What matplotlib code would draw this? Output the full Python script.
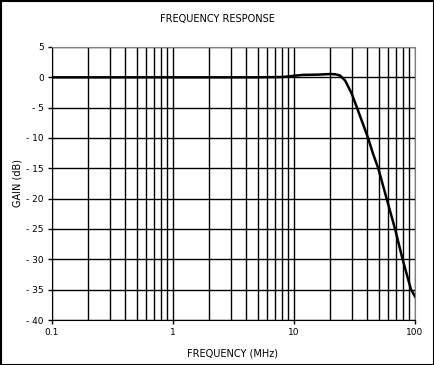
import matplotlib
matplotlib.use("Agg")
import matplotlib.pyplot as plt
from matplotlib.patches import Rectangle
import numpy as np

freq_mhz = [0.1, 0.5, 1, 5, 8, 10, 11.7, 16, 20, 22, 24, 26.4, 28, 30.0, 33.0, 37, 41.1, 45, 49.7, 58.3, 68.4, 79, 92.7, 100]
gain_db = [0.0, 0.0, 0.0, 0.0, 0.05, 0.25, 0.4, 0.45, 0.55, 0.5, 0.3, -0.5, -1.5, -2.7, -4.9, -7.6, -10.1, -12.6, -15.0, -20.0, -25.0, -30.0, -35.0, -36.1]
y_ticks = [5, 0, -5, -10, -15, -20, -25, -30, -35, -40]
x_ticks = [0.1, 1, 10, 100]
x_tick_labels = ["0.1", "1", "10", "100"]

plt.rcParams['font.family'] = ['DejaVu Sans']
fig = plt.figure(figsize=(4.34, 3.65), dpi=100)
ax = fig.add_axes([52/434, 1-320/365, (415-52)/434, (320-47)/365])

ax.set_xscale('log')
ax.set_xlim(0.1, 100)
ax.set_ylim(-40, 5)
ax.plot(freq_mhz, gain_db, color='black', lw=1.8, zorder=3)

ax.set_yticks(y_ticks)
ax.set_yticklabels([str(v).replace('-', '- ') if v < 0 else str(v) for v in y_ticks])
ax.set_xticks(x_ticks)
ax.set_xticklabels(x_tick_labels)
ax.xaxis.set_minor_locator(matplotlib.ticker.LogLocator(base=10, subs=np.arange(2, 10)))
ax.xaxis.set_minor_formatter(matplotlib.ticker.NullFormatter())
ax.grid(True, which='both', axis='x', color='black', lw=1.0)
ax.grid(True, which='major', axis='y', color='black', lw=1.0)
ax.tick_params(axis='both', which='major', length=3, width=1, direction='out', labelsize=6.5, pad=3)
ax.tick_params(axis='x', which='minor', length=0)
for s in ['top', 'right']:
    ax.spines[s].set_color('#808080')
for s in ['left', 'bottom']:
    ax.spines[s].set_color('black')

fig.text(0.5, 1-19/365, 'FREQUENCY RESPONSE', ha='center', va='center', fontsize=7)
fig.text(233/434, 1-354/365, 'FREQUENCY (MHz)', ha='center', va='center', fontsize=7)
fig.text(17/434, 1-183/365, 'GAIN (dB)', ha='center', va='center', rotation=90, fontsize=7)

fig.patches.append(Rectangle((0.5/434, 0.5/365), 433/434, 364/365, transform=fig.transFigure,
                             fill=False, edgecolor='black', lw=1.5))
fig.savefig('out.png', dpi=100)
